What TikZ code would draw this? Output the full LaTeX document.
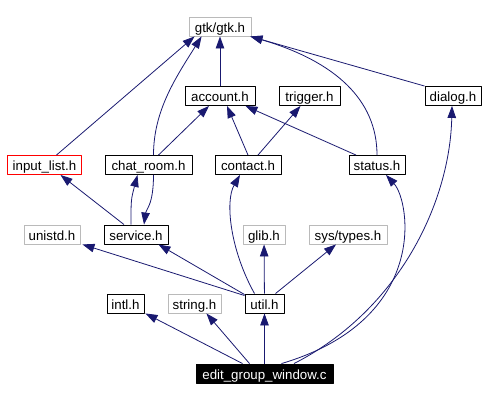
\documentclass[tikz,border=0pt]{standalone}
\usepackage{fontspec}
\setmainfont{Liberation Sans}
\usetikzlibrary{arrows.meta}
\definecolor{midnight}{HTML}{191970}
\begin{document}
\begin{tikzpicture}[x=1pt,y=1pt,>={Triangle[length=12pt,width=8.5pt]},line join=round,font=\fontsize{13.3}{16}\selectfont,
		box/.style={line width=0.9pt,minimum height=19pt,inner sep=0pt,text height=11.4pt,text depth=0pt},
		plain/.style={box,draw=black},
		sys/.style={box,draw=black!27},
		bad/.style={box,draw=red},
		top/.style={box,draw=black,fill=black,text=white},
		dep/.style={->,draw=midnight,line width=0.8pt}]
	\useasboundingbox (0,0) rectangle (493,-401);
	\foreach \n/\s/\x/\y/\w/\t in {gtk/sys/220/-26.5/62/{gtk/gtk.h},account/plain/220/-96/70/account.h,trigger/plain/309.5/-96/61/trigger.h,dialog/plain/453/-96/56/dialog.h,
		ilist/bad/44.5/-165/74/{input\_list.h},chat/plain/148.5/-165/87/{chat\_room.h},contact/plain/248/-165/66/contact.h,status/plain/377/-165/56/status.h,
		unistd/sys/52/-234.5/56/unistd.h,service/plain/136/-234.5/64/service.h,glib/sys/264/-234.5/42/glib.h,types/sys/348/-234.5/78/{sys/types.h},
		intl/plain/125.5/-303.5/37/intl.h,string/sys/194.5/-303.5/53/string.h,util/plain/264.5/-303.5/39/util.h,main/top/264.5/-373.5/137/{edit\_group\_window.c}}
		\node[\s,minimum width=\w] (\n) at (\x,\y) {\t};
	\draw[dep] ([xshift=12pt]ilist.north) -- ([xshift=6pt]gtk.south west);
	\draw[dep] ([xshift=5pt]chat.north) .. controls +(0,45) and +(-25,-40) .. ([xshift=13pt]gtk.south west);
	\draw[dep] (account) -- (gtk);
	\draw[dep] (status.north) .. controls +(0,55) and +(85,-25) .. ([xshift=-1pt]gtk.south east);
	\draw[dep] (dialog.north west) -- ([xshift=-1pt]gtk.south east);
	\draw[dep] ([xshift=10pt]chat.north) -- ([xshift=-11pt]account.south);
	\draw[dep] (contact.north) -- ([xshift=7pt]account.south);
	\draw[dep] ([xshift=-21pt]status.north) -- ([xshift=-10pt]account.south east);
	\draw[dep] ([xshift=10pt]contact.north) -- ([xshift=-9pt]trigger.south);
	\draw[dep] ([xshift=-12pt]service.north) -- ([xshift=16pt]ilist.south);
	\draw[dep] ([xshift=5pt]chat.south) .. controls +(0,-30) and +(2,15) .. ([xshift=8pt]service.north);
	\draw[dep] ([xshift=-5pt]service.north) .. controls +(0,25) .. ([xshift=-11pt]chat.south);
	\draw[dep] ([yshift=-2pt]util.north west) -- ([xshift=2pt]unistd.south east);
	\draw[dep] ([yshift=-1pt]util.north west) -- ([xshift=-10pt]service.south east);
	\draw[dep] (util) -- (glib);
	\draw[dep] ([xshift=11pt]util.north) -- ([xshift=-12pt]types.south);
	\draw[dep] ([xshift=-10pt]util.north) .. controls +(-24.5,44) and +(-15,-26) .. ([xshift=-8pt]contact.south);
	\draw[dep] ([xshift=-22pt]main.north) -- ([xshift=1pt]intl.south east);
	\draw[dep] ([xshift=-15pt]main.north) -- ([xshift=-15pt]string.south east);
	\draw[dep] (main) -- (util);
	\draw[dep] ([xshift=17pt]main.north) .. controls +(148.5,44) and +(24,-26) .. ([xshift=9pt]status.south);
	\draw[dep] ([xshift=29.5pt]main.north) .. controls +(106,54) and +(-2,-95) .. ([xshift=-1pt]dialog.south);
\end{tikzpicture}
\end{document}
